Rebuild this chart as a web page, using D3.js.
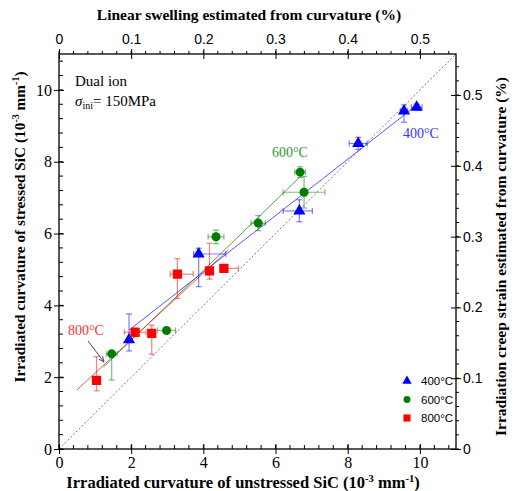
<!DOCTYPE html>
<html>
<head>
<meta charset="utf-8">
<script src="https://cdn.jsdelivr.net/npm/d3@7"></script>
<style>
body { margin:0; background:#fff; }
svg text { fill:#000; }
</style>
</head>
<body>
<div id="chart"></div>
<script>
// data: x, y, x error (lo/hi), y error (lo/hi)
var pts400 = [
    {x:1.94, y:3.04, xl:0.05, xh:0.05, yl:0.31, yh:0.72},
    {x:3.87, y:5.43, xl:0.14, xh:0.75, yl:0.91, yh:0.16},
    {x:6.66, y:6.63, xl:0.45, xh:0.36, yl:0.30, yh:0.31},
    {x:8.29, y:8.51, xl:0.25, xh:0.25, yl:0.17, yh:0.17},
    {x:9.56, y:9.41, xl:0.10, xh:0.10, yl:0.31, yh:0.17},
    {x:9.91, y:9.52, xl:0.15, xh:0.15, yl:0.08, yh:0.08}
];
var pts600 = [
    {x:1.46, y:2.65, xl:0.15, xh:0.15, yl:0.73, yh:0.05},
    {x:2.98, y:3.30, xl:0.25, xh:0.25, yl:0.05, yh:0.05},
    {x:4.35, y:5.91, xl:0.22, xh:0.22, yl:0.19, yh:0.19},
    {x:5.52, y:6.29, xl:0.20, xh:0.20, yl:0.21, yh:0.21},
    {x:6.79, y:7.15, xl:0.58, xh:0.58, yl:0.44, yh:0.44},
    {x:6.68, y:7.71, xl:0.15, xh:0.15, yl:0.15, yh:0.15}
];
var pts800 = [
    {x:1.04, y:1.91, xl:0.05, xh:0.05, yl:0.29, yh:0.66},
    {x:2.11, y:3.25, xl:0.30, xh:0.30, yl:0.12, yh:0.12},
    {x:2.57, y:3.22, xl:0.05, xh:0.05, yl:0.58, yh:0.23},
    {x:3.28, y:4.87, xl:0.20, xh:0.44, yl:0.68, yh:0.43},
    {x:4.17, y:4.96, xl:0.05, xh:0.05, yl:0.23, yh:0.77},
    {x:4.57, y:5.03, xl:0.11, xh:0.40, yl:0.06, yh:0.06}
];
var fit400 = [[1.94, 3.31], [9.87, 9.54]];
var fit600 = [[1.23, 2.28], [6.68, 7.58]];
var fit800 = [[0.49, 1.64], [4.70, 5.55]];
var bottomTicks = [0, 2, 4, 6, 8, 10];
var leftTicks = [0, 2, 4, 6, 8, 10];
var topTicks = [0, 0.1, 0.2, 0.3, 0.4, 0.5];
var rightTicks = [0, 0.1, 0.2, 0.3, 0.4, 0.5];
var legendLabels = ["400°C", "600°C", "800°C"];

var width = 515, height = 491;
var margin = {top:54, right:59, bottom:42, left:59};
var plotWidth = width - margin.left - margin.right;
var plotHeight = height - margin.top - margin.bottom;

var svg = d3.select('#chart').append('svg').attr('width', width).attr('height', height);
var plot = svg.append('g').attr('transform', 'translate(' + margin.left + ',' + margin.top + ')');

var xs = d3.scaleLinear().domain([0, 11]).range([0, plotWidth]);
var ys = d3.scaleLinear().domain([0, 11]).range([plotHeight, 0]);
var xt = d3.scaleLinear().domain([0, 0.55]).range([0, plotWidth]);
var yr = d3.scaleLinear().domain([0, 0.558]).range([plotHeight, 0]);

var serif = "'Liberation Serif', 'Times New Roman', serif";
var sans = "'Liberation Sans', Arial, sans-serif";

// diagonal y = x
plot.append('line')
    .attr('x1', xs(0)).attr('y1', ys(0)).attr('x2', xs(11)).attr('y2', ys(11))
    .attr('stroke', '#555').attr('stroke-width', 0.8).attr('stroke-dasharray', '2,2');

// minor tick values
var minorB = d3.range(0, 11.01, 0.4);
var minorT = d3.range(0, 0.551, 0.02);
var minorR = d3.range(0, 0.559, 0.02);

// bottom axis
var bAxis = plot.append('g').attr('transform', 'translate(0,' + plotHeight + ')');
bAxis.call(d3.axisBottom(xs).tickValues(bottomTicks).tickSize(0).tickPadding(8).tickFormat(d3.format('d')));
bAxis.selectAll('.tick').append('line').attr('y1', -5).attr('y2', 5).attr('stroke', '#000');
bAxis.selectAll('.minor').data(minorB).enter().append('line')
    .attr('x1', d => xs(d)).attr('x2', d => xs(d)).attr('y1', 0).attr('y2', -4).attr('stroke', '#000');
bAxis.selectAll('text').attr('font-family', serif).attr('font-size', 16).attr('fill', '#000');

// left axis
var lAxis = plot.append('g');
lAxis.call(d3.axisLeft(ys).tickValues(leftTicks).tickSize(0).tickPadding(7).tickFormat(d3.format('d')));
lAxis.selectAll('.tick').append('line').attr('x1', -5).attr('x2', 5).attr('stroke', '#000');
lAxis.selectAll('.minor').data(minorB).enter().append('line')
    .attr('y1', d => ys(d)).attr('y2', d => ys(d)).attr('x1', 0).attr('x2', 4).attr('stroke', '#000');
lAxis.selectAll('text').attr('font-family', serif).attr('font-size', 16).attr('fill', '#000');

// top axis
var tAxis = plot.append('g');
tAxis.call(d3.axisTop(xt).tickValues(topTicks).tickSize(0).tickPadding(10).tickFormat(d => d === 0 ? '0' : d3.format('.1f')(d)));
tAxis.selectAll('.tick').append('line').attr('y1', -5).attr('y2', 5).attr('stroke', '#000');
tAxis.selectAll('.minor').data(minorT).enter().append('line')
    .attr('x1', d => xt(d)).attr('x2', d => xt(d)).attr('y1', 0).attr('y2', -3).attr('stroke', '#000');
tAxis.selectAll('text').attr('font-family', sans).attr('font-size', 14).attr('fill', '#000');

// right axis
var rAxis = plot.append('g').attr('transform', 'translate(' + plotWidth + ',0)');
rAxis.call(d3.axisRight(yr).tickValues(rightTicks).tickSize(0).tickPadding(7).tickFormat(d => d === 0 ? '0' : d3.format('.1f')(d)));
rAxis.selectAll('.tick').append('line').attr('x1', -5).attr('x2', 5).attr('stroke', '#000');
rAxis.selectAll('.minor').data(minorR).enter().append('line')
    .attr('y1', d => yr(d)).attr('y2', d => yr(d)).attr('x1', 0).attr('x2', 3).attr('stroke', '#000');
rAxis.selectAll('text').attr('font-family', sans).attr('font-size', 14).attr('fill', '#000');

plot.selectAll('.domain').attr('stroke', 'none');
plot.append('rect').attr('width', plotWidth).attr('height', plotHeight)
    .attr('fill', 'none').attr('stroke', '#000').attr('stroke-width', 1.3);

// series
var series = [
    {pts: pts400, fit: fit400, color: '#0000ff', sym: d3.symbolTriangle, size: 64},
    {pts: pts600, fit: fit600, color: '#007d00', sym: d3.symbolCircle, size: 64},
    {pts: pts800, fit: fit800, color: '#ff0000', sym: d3.symbolSquare, size: 85}
];

var line = d3.line().x(d => xs(d[0])).y(d => ys(d[1]));
series.forEach(function(s){
    plot.append('path').attr('d', line(s.fit)).attr('fill', 'none')
        .attr('stroke', s.color).attr('stroke-width', 0.9).attr('stroke-opacity', 0.75);
});

series.forEach(function(s){
    var g = plot.append('g').attr('stroke', s.color).attr('stroke-opacity', 0.5).attr('stroke-width', 1.2);
    var cap = 3;
    s.pts.forEach(function(p){
        var cx = xs(p.x), cy = ys(p.y);
        var x0 = xs(p.x - p.xl), x1 = xs(p.x + p.xh);
        var y0 = ys(p.y - p.yl), y1 = ys(p.y + p.yh);
        g.append('line').attr('x1', x0).attr('x2', x1).attr('y1', cy).attr('y2', cy);
        g.append('line').attr('x1', x0).attr('x2', x0).attr('y1', cy - cap).attr('y2', cy + cap);
        g.append('line').attr('x1', x1).attr('x2', x1).attr('y1', cy - cap).attr('y2', cy + cap);
        g.append('line').attr('x1', cx).attr('x2', cx).attr('y1', y0).attr('y2', y1);
        g.append('line').attr('y1', y0).attr('y2', y0).attr('x1', cx - cap).attr('x2', cx + cap);
        g.append('line').attr('y1', y1).attr('y2', y1).attr('x1', cx - cap).attr('x2', cx + cap);
    });
    plot.append('g').selectAll('path').data(s.pts).enter().append('path')
        .attr('d', d3.symbol().type(s.sym).size(s.size))
        .attr('transform', d => 'translate(' + xs(d.x) + ',' + ys(d.y) + ')')
        .attr('fill', s.color);
});

// annotations
svg.append('text').attr('x', 403).attr('y', 138).attr('font-family', serif).attr('font-size', 14)
    .style('fill', '#3333ff').text('400°C');
svg.append('text').attr('x', 272).attr('y', 157).attr('font-family', serif).attr('font-size', 14)
    .style('fill', '#339933').text('600°C');
svg.append('text').attr('x', 68).attr('y', 335).attr('font-family', serif).attr('font-size', 14)
    .style('fill', '#ff3333').text('800°C');

svg.append('defs').append('marker').attr('id', 'arr').attr('viewBox', '0 0 10 10')
    .attr('refX', 9).attr('refY', 5).attr('markerWidth', 7).attr('markerHeight', 7).attr('orient', 'auto')
    .append('path').attr('d', 'M0,1 L9,5 L0,9').attr('fill', 'none').attr('stroke', '#333').attr('stroke-width', 1.2);
svg.append('line').attr('x1', 88).attr('y1', 341).attr('x2', 104).attr('y2', 362)
    .attr('stroke', '#333').attr('stroke-width', 0.9).attr('marker-end', 'url(#arr)');

svg.append('text').attr('x', 75).attr('y', 86).attr('font-family', serif).attr('font-size', 15).text('Dual ion');
var sig = svg.append('text').attr('x', 75).attr('y', 106).attr('font-family', serif).attr('font-size', 15);
sig.append('tspan').attr('font-style', 'italic').text('σ');
sig.append('tspan').attr('font-size', 10).attr('dy', 3).text('ini');
sig.append('tspan').attr('dy', -3).text('= 150MPa');

// legend
var leg = svg.append('g').attr('transform', 'translate(407,381)');
series.forEach(function(s, i){
    leg.append('path').attr('d', d3.symbol().type(s.sym).size(s.size * 0.6))
        .attr('transform', 'translate(0,' + (i * 18.5) + ')').attr('fill', s.color);
    leg.append('text').attr('x', 14).attr('y', i * 18.5 + 4).attr('font-family', sans)
        .attr('font-size', 11.5).text(legendLabels[i]);
});

// axis titles
svg.append('text').attr('x', 249).attr('y', 20).attr('text-anchor', 'middle')
    .attr('font-family', serif).attr('font-weight', 'bold').attr('font-size', 15.5)
    .text('Linear swelling estimated from curvature (%)');

var bt = svg.append('text').attr('x', 243).attr('y', 488).attr('text-anchor', 'middle')
    .attr('font-family', serif).attr('font-weight', 'bold').attr('font-size', 16.5);
bt.append('tspan').text('Irradiated curvature of unstressed SiC (10');
bt.append('tspan').attr('font-size', 10.5).attr('dy', -6).text('-3');
bt.append('tspan').attr('dy', 6).text(' mm');
bt.append('tspan').attr('font-size', 10.5).attr('dy', -6).text('-1');
bt.append('tspan').attr('dy', 6).text(')');

var lt = svg.append('text').attr('transform', 'translate(25,227) rotate(-90)')
    .attr('text-anchor', 'middle').attr('font-family', serif).attr('font-weight', 'bold').attr('font-size', 15.3);
lt.append('tspan').text('Irradiated curvature of stressed SiC (10');
lt.append('tspan').attr('font-size', 10).attr('dy', -6).text('-3');
lt.append('tspan').attr('dy', 6).text(' mm');
lt.append('tspan').attr('font-size', 10).attr('dy', -6).text('-1');
lt.append('tspan').attr('dy', 6).text(')');

svg.append('text').attr('transform', 'translate(506,' + (margin.top + plotHeight / 2 + 5) + ') rotate(-90)')
    .attr('text-anchor', 'middle').attr('font-family', serif).attr('font-weight', 'bold').attr('font-size', 15.5)
    .text('Irradiation creep strain estimated from curvature (%)');
</script>
</body>
</html>
